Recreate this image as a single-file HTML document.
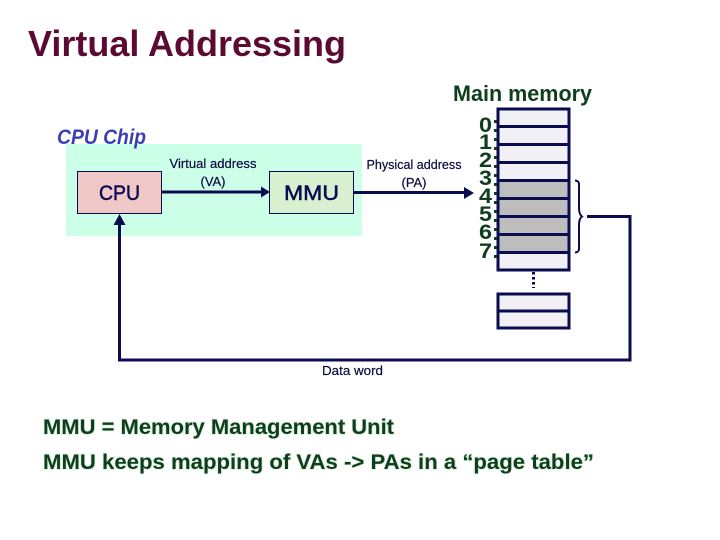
<!DOCTYPE html>
<html><head><meta charset="utf-8"><style>
html,body{margin:0;padding:0;background:#fff}
svg{display:block}
text{font-family:"Liberation Sans",sans-serif}
</style></head><body>
<svg width="720" height="540" viewBox="0 0 720 540" xmlns="http://www.w3.org/2000/svg">
<rect width="720" height="540" fill="#fff"/>
<text x="28" y="56" font-size="36" font-weight="bold" fill="#5c0a32" textLength="318" lengthAdjust="spacingAndGlyphs">Virtual Addressing</text>
<text x="453" y="101" font-size="22" font-weight="bold" fill="#0f3d1e" textLength="139" lengthAdjust="spacingAndGlyphs">Main memory</text>

<rect x="66" y="144" width="296" height="92" fill="#ccffe8"/>
<text x="57" y="144" font-size="21" font-weight="bold" font-style="italic" fill="#3a3fb5" textLength="89" lengthAdjust="spacingAndGlyphs">CPU Chip</text>
<rect x="77.5" y="171.5" width="84" height="42" fill="#f0c8c8" stroke="#0b0b50" stroke-width="1"/>
<rect x="269.5" y="171.5" width="84" height="42" fill="#d8efd0" stroke="#0b0b50" stroke-width="1"/>
<text x="99" y="200" font-size="21" fill="#0b0b50" stroke="#0b0b50" stroke-width="0.5" textLength="41" lengthAdjust="spacingAndGlyphs">CPU</text>
<text x="284" y="200" font-size="21" fill="#0b0b50" stroke="#0b0b50" stroke-width="0.5" textLength="55" lengthAdjust="spacingAndGlyphs">MMU</text>

<g font-size="13" fill="#0b0b40" stroke="#0b0b40" stroke-width="0.2" text-anchor="middle">
<text x="213" y="168" textLength="87" lengthAdjust="spacingAndGlyphs">Virtual address</text>
<text x="213" y="186" textLength="25" lengthAdjust="spacingAndGlyphs">(VA)</text>
<text x="414" y="169" textLength="95" lengthAdjust="spacingAndGlyphs">Physical address</text>
<text x="414" y="187" textLength="25" lengthAdjust="spacingAndGlyphs">(PA)</text>
</g>

<g stroke="#0b0b50" stroke-width="3" fill="none">
<path d="M162 192H264"/>
<path d="M354 192.500H468"/>
<path d="M587 216.500H630V360H119.500V224"/>
</g>
<g fill="#0b0b50">
<path d="M270 192L261 186.500V197.500Z"/>
<path d="M474 193L464 187V199Z"/>
<path d="M119.500 214L113.500 225H125.500Z"/>
</g>

<rect x="498" y="109" width="71" height="161" fill="#f1f1f5"/>
<rect x="498" y="180" width="71" height="72" fill="#bdbdbd"/>
<g stroke="#0b0b50" stroke-width="3" fill="none">
<rect x="498" y="109" width="71" height="161"/>
<path d="M498 126.500H569M498 144.500H569M498 162.500H569M498 180.500H569M498 198.500H569M498 216.500H569M498 234.500H569M498 252.500H569"/>
</g>
<rect x="498" y="294" width="71" height="34" fill="#f1f1f5" stroke="#0b0b50" stroke-width="3"/>
<path d="M498 311H569" stroke="#0b0b50" stroke-width="3"/>
<path d="M533.500 272V288" stroke="#0b0b50" stroke-width="3" stroke-dasharray="2.500 2.500"/>
<path d="M575 180.500C580 181 579 184 579 190V208C579 213 580 215 582 216.500C580 218 579 220 579 225V243C579 249 580 252 575 252.500" fill="none" stroke="#0b0b50" stroke-width="2"/>

<g font-size="21" font-weight="bold" fill="#0f3d1e" text-anchor="middle">
<text x="485.500" y="132" textLength="13" lengthAdjust="spacingAndGlyphs">0</text>
<text x="485.500" y="149" textLength="13" lengthAdjust="spacingAndGlyphs">1</text>
<text x="485.500" y="167" textLength="13" lengthAdjust="spacingAndGlyphs">2</text>
<text x="485.500" y="185" textLength="13" lengthAdjust="spacingAndGlyphs">3</text>
<text x="485.500" y="203" textLength="13" lengthAdjust="spacingAndGlyphs">4</text>
<text x="485.500" y="221" textLength="13" lengthAdjust="spacingAndGlyphs">5</text>
<text x="485.500" y="239" textLength="13" lengthAdjust="spacingAndGlyphs">6</text>
<text x="485.500" y="258" textLength="13" lengthAdjust="spacingAndGlyphs">7</text>
</g>
<g fill="#0f3d1e">
<rect x="494" y="120" width="3" height="3"/><rect x="494" y="129" width="3" height="3"/>
<rect x="494" y="138" width="3" height="3"/><rect x="494" y="147" width="3" height="3"/>
<rect x="494" y="156" width="3" height="3"/><rect x="494" y="165" width="3" height="3"/>
<rect x="494" y="174" width="3" height="3"/><rect x="494" y="183" width="3" height="3"/>
<rect x="494" y="192" width="3" height="3"/><rect x="494" y="201" width="3" height="3"/>
<rect x="494" y="210" width="3" height="3"/><rect x="494" y="219" width="3" height="3"/>
<rect x="494" y="228" width="3" height="3"/><rect x="494" y="237" width="3" height="3"/>
<rect x="494" y="246" width="3" height="3"/><rect x="494" y="255" width="3" height="3"/>
</g>

<text x="322" y="375" font-size="13" fill="#0b0b40" stroke="#0b0b40" stroke-width="0.2" textLength="61" lengthAdjust="spacingAndGlyphs">Data word</text>
<g font-size="21" font-weight="bold" fill="#0f3d1e" stroke="#d4f0d8" stroke-width="1.5" paint-order="stroke">
<text x="43" y="434" textLength="351" lengthAdjust="spacingAndGlyphs">MMU = Memory Management Unit</text>
<text x="43" y="469" textLength="551" lengthAdjust="spacingAndGlyphs">MMU keeps mapping of VAs -&gt; PAs in a “page table”</text>
</g>
</svg>
</body></html>
